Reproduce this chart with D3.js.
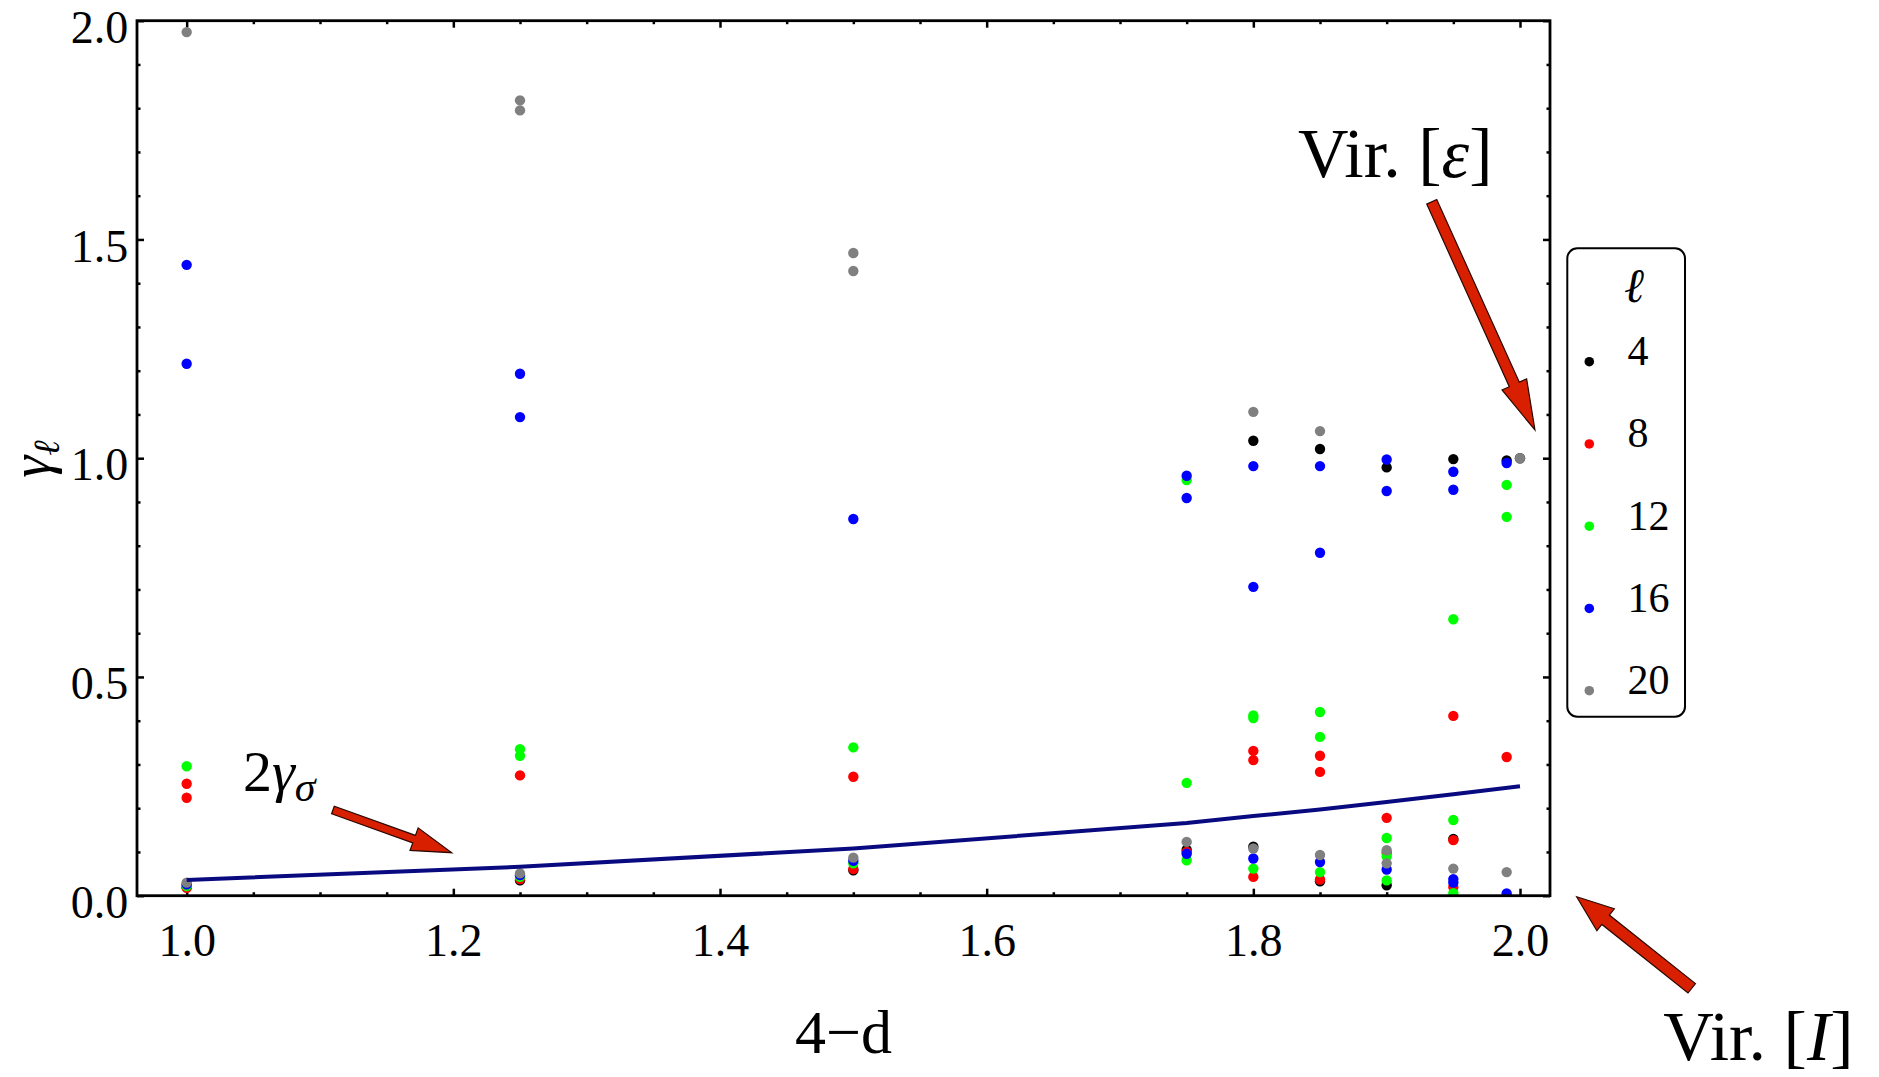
<!DOCTYPE html>
<html>
<head>
<meta charset="utf-8">
<script src="https://cdn.jsdelivr.net/npm/d3@7"></script>
<style>
  body { margin: 0; background: #fff; }
  text { font-family: "Liberation Serif", "DejaVu Serif", serif; fill: #000; }
</style>
</head>
<body>
<svg id="chart" width="1879" height="1077"></svg>
<script>
// Anomalous dimensions gamma_l versus 4-d, one series per spin l.
// Each entry is [4-d, gamma].
const spins = [4, 8, 12, 16, 20];
const spinColors = ["#000000", "#ff0000", "#00ff00", "#0000ff", "#808080"];

const ell4 = [[1.0,0.020],[1.25,0.035],[1.5,0.058],[1.75,0.105],[1.8,1.040],[1.8,0.112],
  [1.85,1.021],[1.85,0.033],[1.9,0.979],[1.9,0.024],[1.95,0.998],[1.95,0.130],[1.99,0.995],[2.0,1.0]];
const ell8 = [[1.0,0.256],[1.0,0.224],[1.0,0.018],[1.25,0.275],[1.25,0.038],[1.5,0.272],[1.5,0.061],
  [1.75,0.100],[1.8,0.331],[1.8,0.310],[1.8,0.043],[1.85,0.320],[1.85,0.283],[1.85,0.037],
  [1.9,0.178],[1.9,0.098],[1.95,0.411],[1.95,0.127],[1.95,0.020],[1.99,0.317]];
const ell12 = [[1.0,0.296],[1.0,0.022],[1.25,0.335],[1.25,0.320],[1.25,0.043],[1.5,0.339],[1.5,0.074],
  [1.75,0.950],[1.75,0.258],[1.75,0.081],[1.8,0.412],[1.8,0.406],[1.8,0.062],[1.85,0.420],
  [1.85,0.363],[1.85,0.054],[1.9,0.132],[1.9,0.090],[1.9,0.035],[1.95,0.632],[1.95,0.173],
  [1.95,0.006],[1.99,0.939],[1.99,0.866]];
const ell16 = [[1.0,1.442],[1.0,1.216],[1.0,0.026],[1.25,1.193],[1.25,1.094],[1.25,0.047],[1.5,0.861],
  [1.5,0.080],[1.75,0.960],[1.75,0.909],[1.75,0.096],[1.8,0.982],[1.8,0.706],[1.8,0.085],
  [1.85,0.982],[1.85,0.784],[1.85,0.077],[1.9,0.997],[1.9,0.925],[1.9,0.060],[1.95,0.969],
  [1.95,0.928],[1.95,0.038],[1.95,0.030],[1.99,0.989],[1.99,0.005]];
const ell20 = [[1.0,1.974],[1.0,0.030],[1.25,1.818],[1.25,1.795],[1.25,0.051],[1.5,1.469],[1.5,1.428],
  [1.5,0.087],[1.75,0.123],[1.8,1.106],[1.8,0.108],[1.85,1.062],[1.85,0.093],[1.9,0.104],
  [1.9,0.074],[1.95,0.062],[1.99,0.054],[2.0,1.0]];
const spinSeries = [ell4, ell8, ell12, ell16, ell20];

// 2*gamma_sigma reference curve
const sigmaX = [1.0, 1.25, 1.5, 1.75, 1.8, 1.85, 1.9, 1.95, 2.0];
const twoGammaSigma = [0.036, 0.066, 0.108, 0.166, 0.182, 0.197, 0.214, 0.232, 0.25];

// Axis ticks
const xMajorTicks = [1.0, 1.2, 1.4, 1.6, 1.8, 2.0];
const xMinorTicks = d3.range(20, 41).map(k => k / 20).filter(v => !xMajorTicks.some(m => Math.abs(m - v) < 1e-9));
const yMajorTicks = [0, 0.5, 1.0, 1.5, 2.0];
const yMinorTicks = d3.range(0, 21).map(k => k / 10).filter(v => !yMajorTicks.some(m => Math.abs(m - v) < 1e-9));

// Annotation arrows and labels, in data units
const arrows = [
  { tail: [1.9338, 1.586], tip: [2.0112, 1.0645], shaft: 11, head: 27, headLen: 50 },
  { tail: [2.1288, -0.2117], tip: [2.0425, -0.0023], shaft: 12, head: 28, headLen: 37 },
  { tail: [1.1097, 0.1959], tip: [1.1988, 0.0983], shaft: 8, head: 24, headLen: 40 }
];

const svg = d3.select("#chart");
svg.append("rect").attr("width", 1879).attr("height", 1077).attr("fill", "#fff");

const plotL = 137, plotR = 1550, plotT = 20.7, plotB = 895.7;
const x = d3.scaleLinear().domain([0.96275, 2.0225]).range([plotL, plotR]);
const y = d3.scaleLinear().domain([0, 2]).range([plotB, plotT]);

svg.append("clipPath").attr("id", "plotClip")
  .append("rect").attr("x", plotL).attr("y", plotT).attr("width", plotR - plotL).attr("height", plotB - plotT);

// Tick marks on all four sides, pointing inwards
function tickAxis(axisFn, scale, values, size, fmt, tx, ty) {
  const g = svg.append("g").attr("transform", `translate(${tx},${ty})`)
    .call(axisFn(scale).tickValues(values).tickSize(-size).tickFormat(fmt || ""));
  g.select(".domain").remove();
  g.selectAll(".tick line").attr("stroke", "#000").attr("stroke-width", 2.5);
  return g;
}
const fmt1 = d3.format(".1f");

const xb = tickAxis(d3.axisBottom, x, xMajorTicks, 7, fmt1, 0, plotB);
xb.selectAll("text").attr("y", 60.3).attr("dy", 0).style("font-size", "46px")
  .style("font-family", "'Liberation Serif','DejaVu Serif',serif").attr("fill", "#000");
tickAxis(d3.axisBottom, x, xMinorTicks, 3.5, null, 0, plotB);
tickAxis(d3.axisTop, x, xMajorTicks, 7, null, 0, plotT);
tickAxis(d3.axisTop, x, xMinorTicks, 3.5, null, 0, plotT);

const yl = tickAxis(d3.axisLeft, y, yMajorTicks, 7, fmt1, plotL, 0);
yl.selectAll("text").attr("x", -8.7).attr("dy", 0).attr("y", 21.7).style("font-size", "46px")
  .style("font-family", "'Liberation Serif','DejaVu Serif',serif").attr("fill", "#000");
tickAxis(d3.axisLeft, y, yMinorTicks, 3.5, null, plotL, 0);
tickAxis(d3.axisRight, y, yMajorTicks, 7, null, plotR, 0);
tickAxis(d3.axisRight, y, yMinorTicks, 3.5, null, plotR, 0);

// Data points
const plot = svg.append("g").attr("clip-path", "url(#plotClip)");
spinSeries.forEach((series, i) => {
  plot.append("g").selectAll("circle").data(series).join("circle")
    .attr("cx", d => x(d[0])).attr("cy", d => y(d[1])).attr("r", 5.2)
    .attr("fill", spinColors[i]);
});

// 2 gamma_sigma curve
const line = d3.line().x(d => x(d[0])).y(d => y(d[1]));
plot.append("path").datum(sigmaX.map((v, i) => [v, twoGammaSigma[i]]))
  .attr("d", line).attr("fill", "none").attr("stroke", "#0a0a80").attr("stroke-width", 4);

// Frame
svg.append("rect").attr("x", plotL).attr("y", plotT).attr("width", plotR - plotL).attr("height", plotB - plotT)
  .attr("fill", "none").attr("stroke", "#000").attr("stroke-width", 2.8);

// Axis titles
svg.append("text").attr("x", (plotL + plotR) / 2).attr("y", 1053.3).attr("text-anchor", "middle")
  .style("font-size", "62px").text("4\u2212d");
const yTitle = svg.append("text").attr("transform", "translate(50,459) rotate(-90)")
  .attr("text-anchor", "middle").style("font-size", "56px");
yTitle.append("tspan").style("font-style", "italic").text("γ");
yTitle.append("tspan").style("font-style", "italic").style("font-size", "37px").attr("dy", 9).text("ℓ");

// Annotation arrows
function arrowPath(a) {
  const [x0, y0] = [x(a.tail[0]), y(a.tail[1])];
  const [x1, y1] = [x(a.tip[0]), y(a.tip[1])];
  const len = Math.hypot(x1 - x0, y1 - y0);
  const ux = (x1 - x0) / len, uy = (y1 - y0) / len;
  const nx = -uy, ny = ux;
  const bx = x1 - ux * a.headLen, by = y1 - uy * a.headLen;
  const s = a.shaft / 2, h = a.head / 2;
  const pts = [
    [x0 + nx * s, y0 + ny * s], [bx + nx * s, by + ny * s], [bx + nx * h, by + ny * h],
    [x1, y1],
    [bx - nx * h, by - ny * h], [bx - nx * s, by - ny * s], [x0 - nx * s, y0 - ny * s]
  ];
  return "M" + pts.map(p => p.join(",")).join("L") + "Z";
}
svg.append("g").selectAll("path").data(arrows).join("path")
  .attr("d", arrowPath).attr("fill", "#d82000").attr("stroke", "#2a0800").attr("stroke-width", 1.2)
  .attr("stroke-linejoin", "miter");

// Annotation labels
const lblSigma = svg.append("text").attr("x", x(1.0422)).attr("y", y(0.240)).style("font-size", "58px");
lblSigma.append("tspan").text("2");
lblSigma.append("tspan").style("font-style", "italic").text("γ");
lblSigma.append("tspan").style("font-style", "italic").style("font-size", "42px").attr("dy", 10).text("σ");

const lblEps = svg.append("text").attr("x", x(1.8335)).attr("y", y(1.6434)).style("font-size", "70px");
lblEps.append("tspan").text("Vir. [");
lblEps.append("tspan").style("font-style", "italic").text("ε");
lblEps.append("tspan").text("]");

const lblId = svg.append("text").attr("x", x(2.1075)).attr("y", y(-0.3755)).style("font-size", "70px");
lblId.append("tspan").text("Vir. [");
lblId.append("tspan").style("font-style", "italic").text("I");
lblId.append("tspan").text("]");

// Legend
const legend = svg.append("g");
legend.append("rect").attr("x", 1567.3).attr("y", 248.3).attr("width", 117.7).attr("height", 468.4)
  .attr("rx", 10).attr("ry", 10).attr("fill", "#fff").attr("stroke", "#000").attr("stroke-width", 2);
legend.append("text").attr("x", 1635).attr("y", 301.7).attr("text-anchor", "middle")
  .style("font-size", "48px").style("font-style", "italic").style("font-weight", "bold").text("ℓ");
const items = legend.selectAll("g.item").data(spins).join("g").attr("class", "item")
  .attr("transform", (d, i) => `translate(0,${361.7 + i * 82.25})`);
items.append("circle").attr("cx", 1589.3).attr("cy", 0).attr("r", 4.8).attr("fill", (d, i) => spinColors[i]);
items.append("text").attr("x", 1627.5).attr("y", 3.5).style("font-size", "42px").text(d => d);
</script>
</body>
</html>
